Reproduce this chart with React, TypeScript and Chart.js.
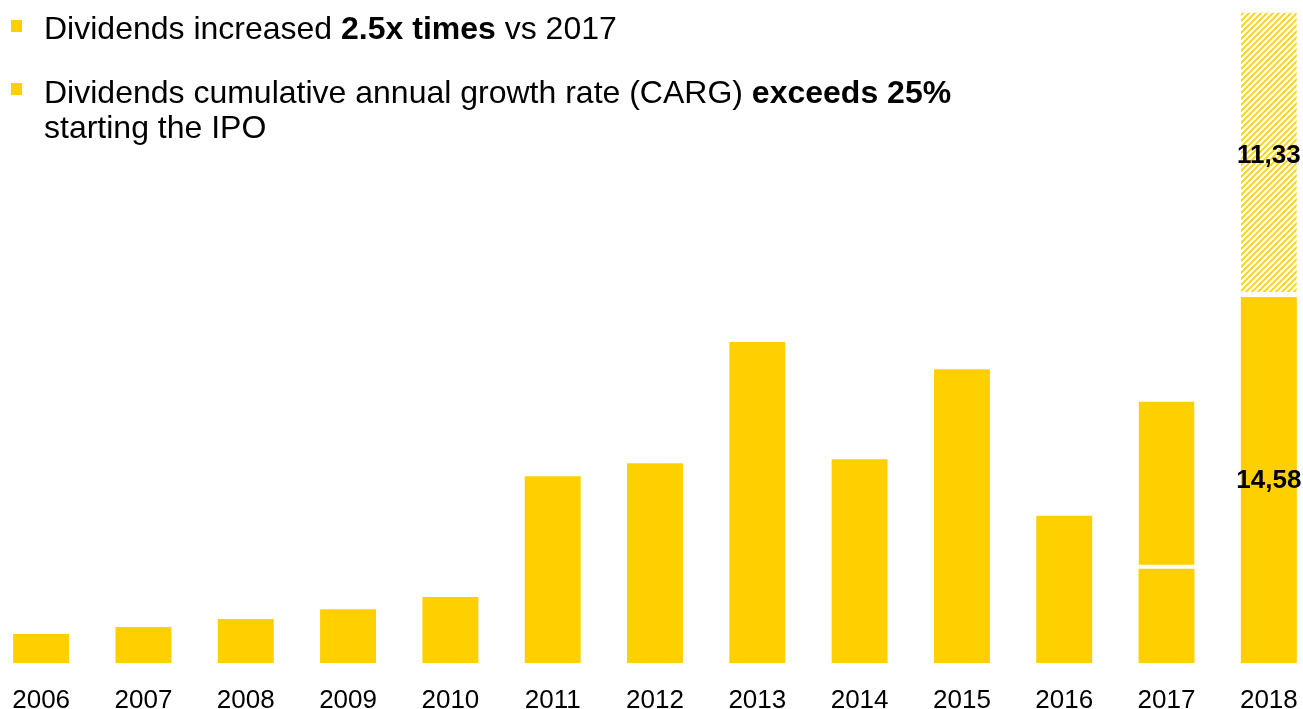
import React, { useEffect, useRef } from "react";
import { Chart, registerables } from "chart.js";

Chart.register(...registerables);

const years = ["2006", "2007", "2008", "2009", "2010", "2011", "2012", "2013", "2014", "2015", "2016", "2017", "2018"];
const baseValues = [1.16, 1.43, 1.75, 2.14, 2.63, 7.44, 7.96, 12.79, 8.12, 11.7, 5.87, 3.75, 14.58];
const upperValues = [null, null, null, null, null, null, null, null, null, null, null, 6.67, 11.33];
const labelledIndices = [12];
const hatchedIndices = [12];
const yMax = 26.41;

const YELLOW = "rgb(255,208,0)";
const FONT = "'Liberation Sans', Arial, sans-serif";

function makeHatch(): CanvasPattern | string {
  const s = 6;
  const c = document.createElement("canvas");
  c.width = s;
  c.height = s;
  const g = c.getContext("2d");
  if (!g) return YELLOW;
  g.fillStyle = "#ffffff";
  g.fillRect(0, 0, s, s);
  g.strokeStyle = YELLOW;
  g.lineWidth = 1.7;
  g.beginPath();
  g.moveTo(-2, s + 2);
  g.lineTo(s + 2, -2);
  g.moveTo(-2, 2);
  g.lineTo(2, -2);
  g.moveTo(s - 2, s + 2);
  g.lineTo(s + 2, s - 2);
  g.stroke();
  return g.createPattern(c, "repeat") || YELLOW;
}

const valueLabels = {
  id: "valueLabels",
  afterDatasetsDraw(chart: any) {
    const ctx = chart.ctx;
    ctx.save();
    ctx.font = `bold 26px ${FONT}`;
    ctx.fillStyle = "#000";
    ctx.textAlign = "center";
    ctx.textBaseline = "middle";
    chart.data.datasets.forEach((ds: any, di: number) => {
      const meta = chart.getDatasetMeta(di);
      labelledIndices.forEach((i) => {
        const v = ds.data[i];
        if (v == null) return;
        const el = meta.data[i];
        const cy = (el.y + el.base) / 2 + 1;
        ctx.fillText(Number(v).toFixed(2).replace(".", ","), el.x, cy);
      });
    });
    ctx.restore();
  },
};

function Bullet({ top }: { top: number }) {
  return (
    <div
      style={{
        position: "absolute",
        left: 11,
        top,
        width: 11,
        height: 12,
        background: YELLOW,
      }}
    />
  );
}

export default function App() {
  const ref = useRef<HTMLCanvasElement>(null);

  useEffect(() => {
    if (!ref.current) return;
    const hatch = makeHatch();
    const chart = new Chart(ref.current, {
      type: "bar",
      data: {
        labels: years,
        datasets: [
          {
            data: baseValues,
            backgroundColor: YELLOW,
            borderWidth: 0,
            barPercentage: 0.547,
            categoryPercentage: 1,
          },
          {
            data: upperValues as any,
            backgroundColor: (c: any) => (hatchedIndices.includes(c.dataIndex) ? hatch : YELLOW),
            borderColor: "#ffffff",
            borderWidth: (c: any) => ({ top: 0, left: 0, right: 0, bottom: c.dataIndex === 12 ? 5 : 4 }),
            borderSkipped: false,
            barPercentage: 0.547,
            categoryPercentage: 1,
          } as any,
        ],
      },
      options: {
        animation: false,
        responsive: false,
        layout: { padding: 0 },
        plugins: {
          legend: { display: false },
          tooltip: { enabled: false },
        },
        scales: {
          x: {
            stacked: true,
            grid: { display: false, drawTicks: false },
            border: { display: false },
            ticks: {
              color: "#000",
              font: { family: FONT, size: 26 },
              padding: 22,
              maxRotation: 0,
              autoSkip: false,
            },
            afterFit: (scale: any) => {
              scale.height = 46;
            },
          },
          y: {
            stacked: true,
            display: false,
            min: 0,
            max: yMax,
          },
        },
      },
      plugins: [valueLabels],
    });
    return () => chart.destroy();
  }, []);

  const textStyle: React.CSSProperties = {
    position: "absolute",
    left: 44,
    fontFamily: FONT,
    fontSize: 32,
    lineHeight: "35px",
    color: "#000",
    whiteSpace: "nowrap",
  };

  return (
    <div
      style={{
        position: "fixed",
        left: 0,
        top: 0,
        width: 1303,
        height: 709,
        overflow: "hidden",
        background: "#fff",
      }}
    >
      <canvas
        ref={ref}
        width={1330}
        height={709}
        style={{ position: "absolute", left: -10, top: 0, width: 1330, height: 709 }}
      />
      <Bullet top={20} />
      <div style={{ ...textStyle, top: 11 }}>
        Dividends increased <b>2.5x times</b> vs 2017
      </div>
      <Bullet top={83} />
      <div style={{ ...textStyle, top: 75 }}>
        Dividends cumulative annual growth rate (CARG) <b>exceeds 25%</b>
        <br />
        starting the IPO
      </div>
    </div>
  );
}
